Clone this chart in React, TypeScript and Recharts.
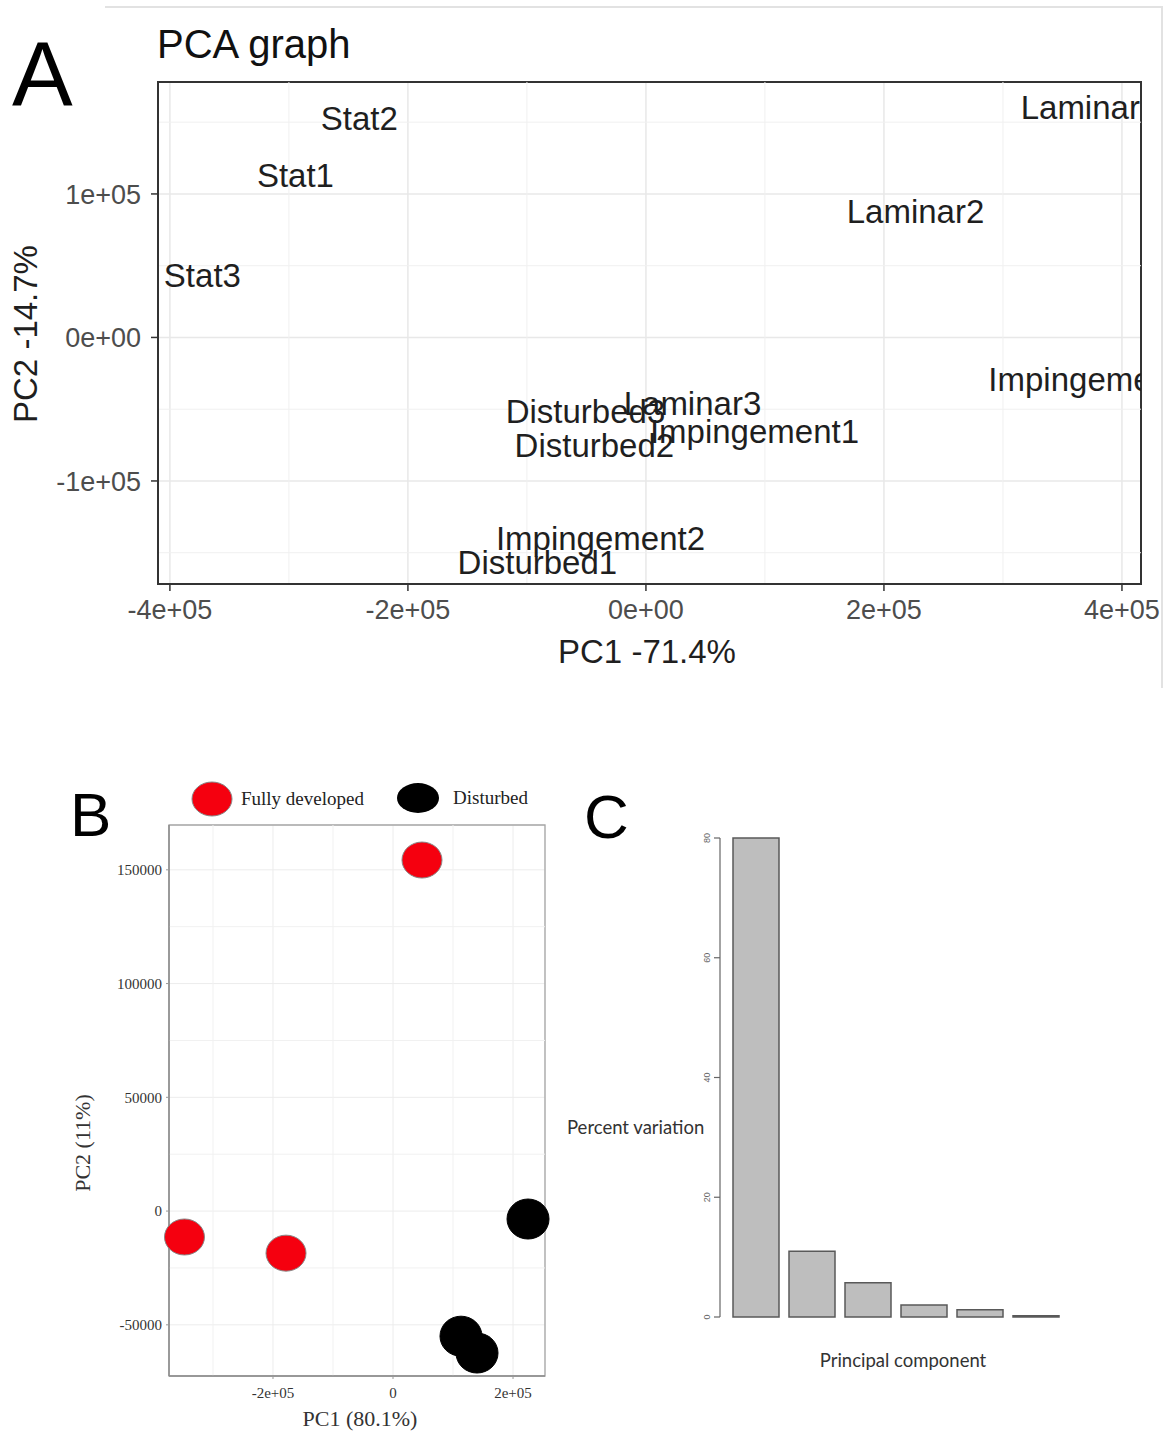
import React from "react";
import {
  ScatterChart,
  Scatter,
  XAxis,
  YAxis,
  CartesianGrid,
  ReferenceLine,
  ReferenceArea,
  BarChart,
  Bar,
  Legend,
} from "recharts";

// ---- panel A : labelled PCA scores
const sampleNames = [
  "Stat1", "Stat2", "Stat3",
  "Laminar1", "Laminar2", "Laminar3",
  "Impingement1", "Impingement2", "Impingement3",
  "Disturbed1", "Disturbed2", "Disturbed3",
];
const pc1A = [-294500, -240800, -372700, 372700, 226500, 39100, 91200, -38200, 375600, -91200, -43300, -50800];
const pc2A = [112500, 152300, 42900, 159900, 87500, -46300, -65800, -140400, -29600, -157100, -75600, -51900];
const aXTicks = [-400000, -200000, 0, 200000, 400000];
const aXTickLabels = ["-4e+05", "-2e+05", "0e+00", "2e+05", "4e+05"];
const aYTicks = [-100000, 0, 100000];
const aYTickLabels = ["-1e+05", "0e+00", "1e+05"];
const aXMinor = [-300000, -100000, 100000, 300000];
const aYMinor = [-150000, -50000, 50000, 150000];

// ---- panel B : two groups
const groupNames = ["Fully developed", "Disturbed"];
const groupColors = ["#f5000f", "#000000"];
const fullyX = [48300, -347500, -178300];
const fullyY = [154300, -11400, -18500];
const disturbedX = [225000, 113300, 140000];
const disturbedY = [-3500, -55000, -62400];
const bXTicks = [-200000, 0, 200000];
const bXTickLabels = ["-2e+05", "0", "2e+05"];
const bYTicks = [-50000, 0, 50000, 100000, 150000];
const bXMinor = [-300000, -100000, 100000];
const bYMinor = [-25000, 25000, 75000, 125000];

// ---- panel C : scree plot
const components = ["PC1", "PC2", "PC3", "PC4", "PC5", "PC6"];
const percentVariation = [80, 11, 5.7, 2.0, 1.2, 0.2];
const cYTicks = [0, 20, 40, 60, 80];

const SANS = "'Liberation Sans', Arial, sans-serif";
const SERIF = "'Liberation Serif', 'Times New Roman', serif";
const LATO = "Lato, 'Open Sans', sans-serif";

const labelFrom = (ticks: number[], labels: string[]) => (v: number) => {
  const i = ticks.indexOf(v);
  return i >= 0 ? labels[i] : String(v);
};

const TextPoint = (props: any) => {
  const { cx, cy, payload } = props;
  return (
    <text x={cx} y={cy} textAnchor="middle" dominantBaseline="central" fontSize={33} fontFamily={SANS} fill="#1f1f1f">
      {payload.name}
    </text>
  );
};

const makeEllipse = (fill: string, rx: number, ry: number, stroke: string) => (props: any) => (
  <ellipse cx={props.cx} cy={props.cy} rx={rx} ry={ry} fill={fill} stroke={stroke} strokeWidth={1} />
);

const RotatedTick = (props: any) => {
  const { x, y, payload } = props;
  return (
    <text x={x} y={y} transform={`rotate(-90, ${x}, ${y})`} textAnchor="middle" fontSize={9} fill="#666" fontFamily={SANS}>
      {payload.value}
    </text>
  );
};

function PanelA() {
  const data = sampleNames.map((name, i) => ({ name, x: pc1A[i], y: pc2A[i] }));
  const dom: [number, number] = [-410000, 416000];
  const domY: [number, number] = [-171800, 178000];
  return (
    <ScatterChart width={1171} height={700} margin={{ top: 82, right: 30, bottom: 76, left: 98 }}>
      <CartesianGrid stroke="#e8e8e8" strokeWidth={1.5} />
      {aXMinor.map((v) => (
        <ReferenceLine key={"ax" + v} x={v} stroke="#f0f0f0" strokeWidth={1} />
      ))}
      {aYMinor.map((v) => (
        <ReferenceLine key={"ay" + v} y={v} stroke="#f0f0f0" strokeWidth={1} />
      ))}
      <XAxis
        dataKey="x"
        type="number"
        domain={dom}
        allowDataOverflow
        ticks={aXTicks}
        interval={0}
        tickFormatter={labelFrom(aXTicks, aXTickLabels)}
        tick={{ fontSize: 27, fill: "#4d4d4d", fontFamily: SANS }}
        tickSize={7}
        tickMargin={9}
        height={40}
        axisLine={{ stroke: "#333", strokeWidth: 2 }}
        tickLine={{ stroke: "#333", strokeWidth: 1.5 }}
      />
      <YAxis
        dataKey="y"
        type="number"
        domain={domY}
        allowDataOverflow
        ticks={aYTicks}
        interval={0}
        tickFormatter={labelFrom(aYTicks, aYTickLabels)}
        tick={{ fontSize: 27, fill: "#4d4d4d", fontFamily: SANS }}
        tickSize={7}
        tickMargin={10}
        width={60}
        axisLine={{ stroke: "#333", strokeWidth: 2 }}
        tickLine={{ stroke: "#333", strokeWidth: 1.5 }}
      />
      <ReferenceArea x1={dom[0]} x2={dom[1]} y1={domY[0]} y2={domY[1]} fill="none" fillOpacity={0} stroke="#333" strokeWidth={2} ifOverflow="visible" />
      <Scatter data={data} shape={TextPoint} isAnimationActive={false} />
    </ScatterChart>
  );
}

function PanelB() {
  const fully = fullyX.map((x, i) => ({ x, y: fullyY[i] }));
  const disturbed = disturbedX.map((x, i) => ({ x, y: disturbedY[i] }));
  const dom: [number, number] = [-373300, 253300];
  const domY: [number, number] = [-72500, 169700];
  return (
    <ScatterChart width={560} height={673} margin={{ top: 65, right: 15, bottom: 27, left: 109 }}>
      <CartesianGrid stroke="#ececec" strokeWidth={1} />
      {bXMinor.map((v) => (
        <ReferenceLine key={"bx" + v} x={v} stroke="#f1f1f1" strokeWidth={1} />
      ))}
      {bYMinor.map((v) => (
        <ReferenceLine key={"by" + v} y={v} stroke="#f1f1f1" strokeWidth={1} />
      ))}
      <XAxis
        dataKey="x"
        type="number"
        domain={dom}
        ticks={bXTicks}
        interval={0}
        tickFormatter={labelFrom(bXTicks, bXTickLabels)}
        tick={{ fontSize: 15, fill: "#333", fontFamily: SERIF }}
        tickSize={3}
        tickMargin={8}
        height={30}
        axisLine={{ stroke: "#8c8c8c", strokeWidth: 1.5 }}
        tickLine={{ stroke: "#999" }}
      />
      <YAxis
        dataKey="y"
        type="number"
        domain={domY}
        ticks={bYTicks}
        interval={0}
        tick={{ fontSize: 15, fill: "#333", fontFamily: SERIF }}
        tickSize={3}
        tickMargin={4}
        width={60}
        axisLine={{ stroke: "#8c8c8c", strokeWidth: 1.5 }}
        tickLine={{ stroke: "#999" }}
      />
      <ReferenceArea x1={dom[0]} x2={dom[1]} y1={domY[0]} y2={domY[1]} fill="none" fillOpacity={0} stroke="#a6a6a6" strokeWidth={1.3} ifOverflow="visible" />
      <Legend
        verticalAlign="middle"
        align="center"
        layout="horizontal"
        wrapperStyle={{ top: 20, left: 180, width: 380, height: 40 }}
        content={() => (
          <svg width={380} height={40}>
            <ellipse cx={32} cy={19} rx={20} ry={17} fill={groupColors[0]} stroke="#888" />
            <text x={61} y={25} fontSize={19} fontFamily={SERIF} fill="#222">{groupNames[0]}</text>
            <ellipse cx={238} cy={18} rx={21} ry={15} fill={groupColors[1]} />
            <text x={273} y={24} fontSize={19} fontFamily={SERIF} fill="#222">{groupNames[1]}</text>
          </svg>
        )}
      />
      <Scatter name={groupNames[0]} data={fully} shape={makeEllipse(groupColors[0], 20, 18, "#888")} isAnimationActive={false} />
      <Scatter name={groupNames[1]} data={disturbed} shape={makeEllipse(groupColors[1], 21, 20, "#000")} isAnimationActive={false} />
    </ScatterChart>
  );
}

function PanelC() {
  const data = components.map((name, i) => ({ name, value: percentVariation[i] }));
  return (
    <BarChart width={611} height={673} data={data} margin={{ top: 78, right: 107, bottom: 116, left: 120 }} barCategoryGap={5}>
      <XAxis dataKey="name" hide padding={{ left: 8, right: 0 }} />
      <YAxis
        type="number"
        domain={[0, 80]}
        ticks={cYTicks}
        interval={0}
        width={40}
        tickSize={6}
        tickMargin={4}
        tick={RotatedTick}
        axisLine={{ stroke: "#666", strokeWidth: 1.2 }}
        tickLine={{ stroke: "#666", strokeWidth: 1.2 }}
      />
      <Bar dataKey="value" fill="#bebebe" stroke="#595959" strokeWidth={1.5} isAnimationActive={false} />
    </BarChart>
  );
}

export default function App() {
  return (
    <div style={{ position: "absolute", left: 0, top: 0, width: 1171, height: 1433, background: "#fff", overflow: "hidden" }}>
      <div style={{ position: "absolute", left: 105, top: 6, width: 1056, height: 680, borderTop: "2px solid #e2e2e2", borderRight: "2px solid #e2e2e2" }} />
      <div style={{ position: "absolute", left: 0, top: 0 }}>
        <PanelA />
      </div>
      <div style={{ position: "absolute", left: 0, top: 760 }}>
        <PanelB />
      </div>
      <div style={{ position: "absolute", left: 560, top: 760 }}>
        <PanelC />
      </div>
      <svg width={1171} height={1433} style={{ position: "absolute", left: 0, top: 0, pointerEvents: "none" }}>
        <text x={12} y={105} fontSize={91} fontFamily={SANS} fill="#000">A</text>
        <text x={157} y={58} fontSize={40} fontFamily={SANS} fill="#111">PCA graph</text>
        <text x={647} y={663} fontSize={33} fontFamily={SANS} fill="#1f1f1f" textAnchor="middle">PC1 -71.4%</text>
        <text x={37} y={334} fontSize={33} fontFamily={SANS} fill="#1f1f1f" textAnchor="middle" transform="rotate(-90, 37, 334)">PC2 -14.7%</text>

        <text x={70} y={836} fontSize={62} fontFamily={SANS} fill="#000">B</text>
        <text x={360} y={1426} fontSize={22} fontFamily={SERIF} fill="#333" textAnchor="middle">PC1 (80.1%)</text>
        <text x={90} y={1143} fontSize={22} fontFamily={SERIF} fill="#333" textAnchor="middle" transform="rotate(-90, 90, 1143)">PC2 (11%)</text>

        <text x={584} y={838} fontSize={62} fontFamily={SANS} fill="#000">C</text>
        <text x={567} y={1134} fontSize={18.5} fontFamily={LATO} fill="#333">Percent variation</text>
        <text x={903} y={1367} fontSize={18.5} fontFamily={LATO} fill="#333" textAnchor="middle">Principal component</text>
      </svg>
    </div>
  );
}
